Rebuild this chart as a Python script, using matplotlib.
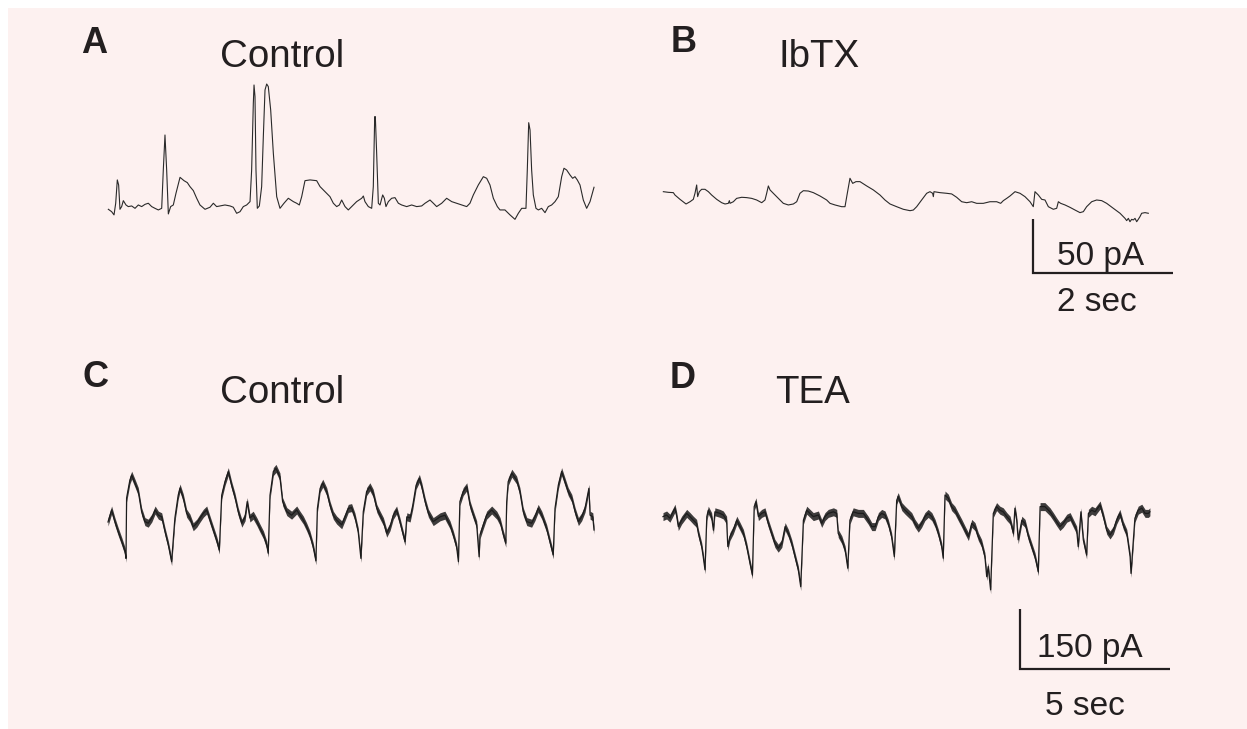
import numpy as np
import matplotlib
matplotlib.use("Agg")
import matplotlib.pyplot as plt
from matplotlib.patches import Rectangle

# ---------------- data (time in s, current in pA) ----------------
# Panel A: Control (short time base)
a_t = [0.005,0.052,0.086,0.110,0.133,0.152,0.171,0.195,0.219,0.257,0.290,0.338,0.386,0.433,0.481,0.529,0.576,0.624,0.671,0.719,
       0.767,0.790,0.814,0.838,0.862,0.895,0.933,0.971,1.029,1.086,1.133,1.171,1.219,1.267,1.314,1.386,1.457,1.505,1.552,1.600,
       1.671,1.743,1.790,1.838,1.886,1.933,1.981,2.029,2.052,2.076,2.086,2.100,2.114,2.133,2.162,2.195,2.219,2.243,2.267,2.290,
       2.324,2.362,2.410,2.457,2.514,2.576,2.648,2.695,2.733,2.767,2.814,2.886,2.981,3.029,3.100,3.171,3.219,3.267,3.305,3.338,
       3.386,3.433,3.481,3.552,3.624,3.648,3.671,3.719,3.767,3.790,3.810,3.819,3.838,3.862,3.886,3.924,3.948,3.971,4.005,4.052,
       4.100,4.148,4.195,4.267,4.338,4.410,4.481,4.529,4.600,4.648,4.695,4.767,4.838,4.910,4.981,5.052,5.124,5.171,5.219,5.290,
       5.362,5.410,5.457,5.505,5.562,5.600,5.671,5.743,5.814,5.862,5.910,5.971,5.990,6.010,6.029,6.052,6.076,6.114,6.148,6.195,
       6.243,6.290,6.338,6.386,6.433,6.481,6.514,6.552,6.600,6.638,6.671,6.705,6.743,6.790,6.838,6.886,6.943]
a_i = [-1.2,-3.4,-6.4,4.4,26.0,21.3,-1.2,1.3,6.8,2.8,1.3,1.9,-0.3,2.8,1.3,3.4,4.4,1.3,-0.3,-1.8,
       -0.3,35.2,67.6,35.2,-5.5,1.3,2.8,13.6,28.4,25.3,23.5,19.8,16.1,9.0,2.8,-1.2,0.7,4.4,1.3,1.9,
       2.8,1.9,0.7,-4.9,-3.4,1.3,2.8,5.9,35.2,96.9,113.9,103.1,35.2,-0.3,1.9,19.8,66.1,109.3,114.8,112.4,
       90.8,50.7,10.5,-0.3,4.4,9.0,5.9,4.4,2.8,10.5,25.3,26.0,25.3,19.8,15.2,10.5,4.4,1.3,2.8,7.4,
       1.3,-1.8,1.3,5.9,9.0,11.1,5.9,1.3,-0.3,19.8,84.6,84.6,50.7,4.4,2.8,12.1,9.0,1.3,5.9,9.0,
       9.6,4.4,2.8,1.3,2.8,1.3,1.9,4.4,7.4,4.4,1.3,4.4,9.0,5.9,4.4,2.8,1.3,4.4,12.1,21.3,
       29.0,27.5,21.3,9.0,1.3,-1.8,-1.8,-6.4,-10.5,-4.9,-0.3,-0.3,35.2,79.0,72.3,35.2,12.1,-0.3,-1.8,-0.3,
       -4.3,1.3,2.8,5.9,10.5,29.0,36.8,35.2,30.6,27.5,29.0,25.9,21.3,7.4,-0.3,5.9,19.2]

# Panel B: IbTX (short time base)
b_t = [0.005,0.076,0.148,0.171,0.243,0.329,0.386,0.433,0.457,0.481,0.495,0.519,0.552,0.600,0.648,0.695,0.767,0.838,0.886,0.933,
       0.948,0.957,1.005,1.052,1.124,1.195,1.267,1.338,1.410,1.457,1.481,1.505,1.529,1.576,1.648,1.719,1.790,1.862,1.910,1.957,
       2.005,2.076,2.148,2.243,2.338,2.386,2.457,2.552,2.600,2.633,2.671,2.710,2.757,2.814,2.910,3.005,3.100,3.171,3.243,3.338,
       3.433,3.529,3.576,3.624,3.695,3.767,3.814,3.852,3.862,3.871,3.957,4.052,4.124,4.195,4.267,4.338,4.410,4.481,4.576,4.671,
       4.767,4.824,4.862,4.910,4.957,5.029,5.100,5.171,5.243,5.290,5.314,5.362,5.410,5.457,5.505,5.576,5.624,5.648,5.681,5.743,
       5.814,5.886,5.957,6.005,6.052,6.124,6.195,6.267,6.338,6.433,6.529,6.600,6.624,6.648,6.671,6.695,6.719,6.743,6.767,6.790,
       6.814,6.838,6.886,6.933]
b_i = [0.3,-0.3,-0.6,-2.8,-6.8,-11.1,-9.0,-6.8,-1.2,6.5,-4.3,0.3,2.5,2.5,0.3,-2.8,-6.8,-9.9,-11.1,-10.5,
       -8.0,-10.5,-9.0,-5.9,-4.9,-5.2,-5.9,-7.4,-9.9,-7.4,-1.2,5.6,1.9,-1.2,-5.9,-10.5,-12.0,-11.1,-9.0,-1.2,
       1.2,0.9,-0.6,-3.7,-7.4,-10.5,-12.0,-13.6,-13.6,-1.2,12.7,8.0,9.6,9.6,5.6,1.9,-2.8,-7.4,-11.1,-13.6,
       -16.0,-17.3,-16.7,-13.6,-7.4,-1.2,0.3,-1.2,-4.3,0.3,-0.6,-1.2,-1.8,-4.9,-9.0,-9.9,-9.0,-10.5,-10.5,-9.0,
       -9.0,-10.5,-8.0,-5.9,-3.7,0.3,-1.2,-4.3,-9.0,-13.6,0.3,-2.8,-6.8,-7.4,-13.6,-16.0,-15.1,-9.0,-10.5,-12.0,
       -14.2,-16.7,-19.1,-18.2,-13.6,-9.0,-7.4,-8.0,-10.5,-15.1,-19.7,-24.4,-26.5,-24.4,-27.5,-25.3,-25.9,-24.4,-27.5,-25.3,
       -22.8,-19.7,-19.1,-19.7]

# Panel C: Control (long time base)
c_t = [0.00,0.12,0.23,0.34,0.46,0.57,0.60,0.62,0.73,0.79,0.90,1.01,1.12,1.23,1.34,1.46,1.57,1.68,1.79,1.90,
       2.01,2.12,2.23,2.34,2.40,2.51,2.62,2.73,2.84,2.96,3.07,3.18,3.29,3.40,3.51,3.62,3.71,3.79,3.90,4.01,
       4.12,4.23,4.34,4.46,4.57,4.64,4.73,4.84,4.96,5.07,5.18,5.29,5.34,5.40,5.51,5.60,5.73,5.82,5.96,6.12,
       6.29,6.40,6.51,6.62,6.73,6.84,6.93,6.98,7.07,7.16,7.29,7.40,7.51,7.62,7.79,7.90,8.01,8.12,8.23,8.34,
       8.43,8.51,8.62,8.73,8.84,8.96,9.07,9.18,9.29,9.40,9.51,9.62,9.73,9.84,9.90,9.96,10.07,10.16,10.27,10.38,
       10.46,10.57,10.68,10.84,11.07,11.23,11.40,11.51,11.62,11.68,11.73,11.84,11.96,12.07,12.18,12.29,12.37,12.40,12.51,12.62,
       12.79,12.96,13.07,13.18,13.26,13.29,13.34,13.46,13.62,13.73,13.84,13.96,14.12,14.23,14.34,14.46,14.62,14.73,14.84,14.90,
       15.01,15.12,15.23,15.34,15.46,15.57,15.68,15.79,15.90,16.03,16.07,16.16,16.20]
c_i = [-5,25,-4,-29,-54,-79,-96,55,100,112,92,71,21,-4,-8,5,25,12,8,-29,
       -62,-104,5,62,80,55,17,5,-17,-8,5,17,25,0,-25,-50,-75,62,96,121,
       87,58,21,-8,8,46,5,12,-4,-21,-37,-62,-83,62,121,129,108,46,21,12,
       25,12,0,-17,-37,-67,-102,29,79,92,71,37,12,0,-12,8,29,31,8,-29,
       -96,21,71,83,67,29,12,-4,-33,-17,12,25,-4,-37,-54,8,5,37,87,104,
       83,46,17,-4,8,12,-12,-37,-67,-104,46,71,83,37,12,-12,-92,-37,-12,12,
       25,12,-4,-37,-58,46,96,117,100,71,21,-4,-8,8,29,12,-21,-54,-87,29,
       87,121,96,71,54,21,-4,8,29,79,12,8,-25]

# Panel D: TEA (long time base)
d_t = [0.00,0.12,0.23,0.34,0.40,0.46,0.51,0.62,0.79,0.90,1.01,1.12,1.18,1.29,1.34,1.40,1.46,1.51,1.62,1.68,
       1.73,1.90,2.01,2.12,2.16,2.23,2.34,2.46,2.57,2.68,2.79,2.90,2.98,3.04,3.10,3.18,3.29,3.40,3.51,3.62,
       3.73,3.84,3.96,4.07,4.18,4.29,4.40,4.51,4.59,4.68,4.79,4.90,5.01,5.18,5.29,5.40,5.51,5.68,5.79,5.84,
       5.96,6.07,6.16,6.23,6.34,6.51,6.68,6.84,6.96,7.07,7.18,7.29,7.40,7.51,7.62,7.71,7.79,7.84,7.96,8.07,
       8.18,8.29,8.40,8.51,8.62,8.73,8.84,8.96,9.07,9.18,9.29,9.34,9.40,9.51,9.62,9.73,9.84,9.96,10.07,10.18,
       10.29,10.40,10.51,10.62,10.73,10.79,10.84,10.92,11.01,11.12,11.23,11.34,11.46,11.57,11.68,11.73,11.79,11.84,11.96,12.07,
       12.18,12.29,12.40,12.51,12.57,12.73,12.90,13.01,13.12,13.23,13.34,13.46,13.57,13.68,13.79,13.84,13.93,14.01,14.12,14.18,
       14.29,14.40,14.57,14.68,14.79,14.90,15.01,15.12,15.23,15.34,15.46,15.57,15.60,15.68,15.73,15.84,15.96,16.07,16.18,16.23]
d_i = [1,5,-3,13,22,1,-24,-8,9,1,-8,-16,-41,-74,-99,-132,1,17,1,-33,
       13,9,5,-8,-74,-49,-33,-8,-24,-41,-74,-116,-145,26,38,1,9,13,-16,-41,
       -66,-78,-66,-24,-41,-66,-99,-132,-174,-8,17,9,1,5,-16,1,9,13,9,-41,
       -57,-82,-128,-8,13,9,9,-8,-24,-24,1,9,5,-16,-49,-99,42,51,26,17,
       9,1,-16,-28,-16,1,9,1,-16,-41,-74,-103,55,47,26,17,1,-16,-33,-49,
       -16,-24,-49,-66,-99,-149,-124,-182,9,26,17,13,1,-8,-41,22,-8,-57,-8,-16,
       -49,-74,-99,-137,26,26,13,1,-12,-24,-16,-3,1,-16,-33,-74,13,-57,-95,9,
       17,13,30,1,-33,-45,-33,-8,9,-20,-41,-99,-141,-57,-3,17,22,9,9,13]

# approximate peak-to-peak width of the recording noise band in C and D (pA)
noise_band_pA = 20

panel_letters = ["A", "B", "C", "D"]
panel_titles = ["Control", "IbTX", "Control", "TEA"]
scale_top = (2, 50)       # s, pA
scale_bottom = (5, 150)   # s, pA
scale_top_labels = ["50 pA", "2 sec"]
scale_bottom_labels = ["150 pA", "5 sec"]

# ---------------- layout ----------------
W, H = 1247, 729
fig = plt.figure(figsize=(W / 100, H / 100), dpi=100, facecolor="white")
fig.patches.append(Rectangle((8 / W, 0), 1 - 8 / W, 1 - 8 / H, transform=fig.transFigure,
                             facecolor="#fdf1f0", edgecolor="none", zorder=-5))

TXT = "#231f20"
TRACE = "#2a2a2a"
NOISY = "#1c1c1c"
FONT = ["Liberation Sans", "DejaVu Sans"]


def panel_axes(x0, y0, xs, ys, left, right, top, bottom):
    """Axes whose data origin is at pixel (x0, y0); xs px per s, ys px per pA."""
    ax = fig.add_axes([left / W, 1 - bottom / H, (right - left) / W, (bottom - top) / H])
    ax.set_xlim((left - x0) / xs, (right - x0) / xs)
    ax.set_ylim((y0 - bottom) / ys, (y0 - top) / ys)
    ax.axis("off")
    ax.patch.set_alpha(0)
    return ax


def ftext(x, y, s, size, weight="normal"):
    fig.text(x / W, 1 - y / H, s, fontsize=size, fontweight=weight, color=TXT,
             family=FONT, ha="left", va="baseline", zorder=5)


def noisy_trace(ax, t, i):
    t = np.asarray(t, float)
    i = np.asarray(i, float)
    half = noise_band_pA / 2
    ax.fill_between(t, i - half, i + half, color=NOISY, lw=0, alpha=0.85)
    ax.plot(t, i, color=NOISY, lw=0.9)


# top row: 70 px / s, 1.08 px / pA
axA = panel_axes(108, 208, 70, 1.08, 95, 610, 70, 240)
axA.plot(a_t, a_i, color=TRACE, lw=0.8)
axB = panel_axes(663, 192, 70, 1.08, 650, 1200, 150, 330)
axB.plot(b_t, b_i, color=TRACE, lw=0.8)

# bottom row: 30 px / s, 0.4 px / pA
axC = panel_axes(108, 520, 30, 0.4, 95, 610, 440, 600)
noisy_trace(axC, c_t, c_i)
axD = panel_axes(663, 517, 30, 0.4, 650, 1200, 470, 700)
noisy_trace(axD, d_t, d_i)

# scale bars (drawn in data units)
sx, sy = scale_top
bx0, by0 = 5.286, -75
axB.plot([bx0, bx0, bx0 + sx], [by0 + sy, by0, by0], color=TXT, lw=1.6,
         solid_capstyle="butt", solid_joinstyle="miter")
sx, sy = scale_bottom
dx0, dy0 = 11.9, -380
axD.plot([dx0, dx0, dx0 + sx], [dy0 + sy, dy0, dy0], color=TXT, lw=1.6,
         solid_capstyle="butt", solid_joinstyle="miter")

# texts
ftext(81, 53, panel_letters[0], 26, "bold")
ftext(220, 67, panel_titles[0], 27.7)
ftext(671, 52, panel_letters[1], 26, "bold")
ftext(778, 67, panel_titles[1], 27.7)
ftext(82, 387, panel_letters[2], 26, "bold")
ftext(220, 403, panel_titles[2], 27.7)
ftext(670, 388, panel_letters[3], 26, "bold")
ftext(775, 403, panel_titles[3], 27.7)

ftext(1057, 265, scale_top_labels[0], 24)
ftext(1057, 311, scale_top_labels[1], 24)
ftext(1037, 657, scale_bottom_labels[0], 24)
ftext(1045, 715, scale_bottom_labels[1], 24)

fig.savefig("out.png", dpi=100, facecolor=fig.get_facecolor())
